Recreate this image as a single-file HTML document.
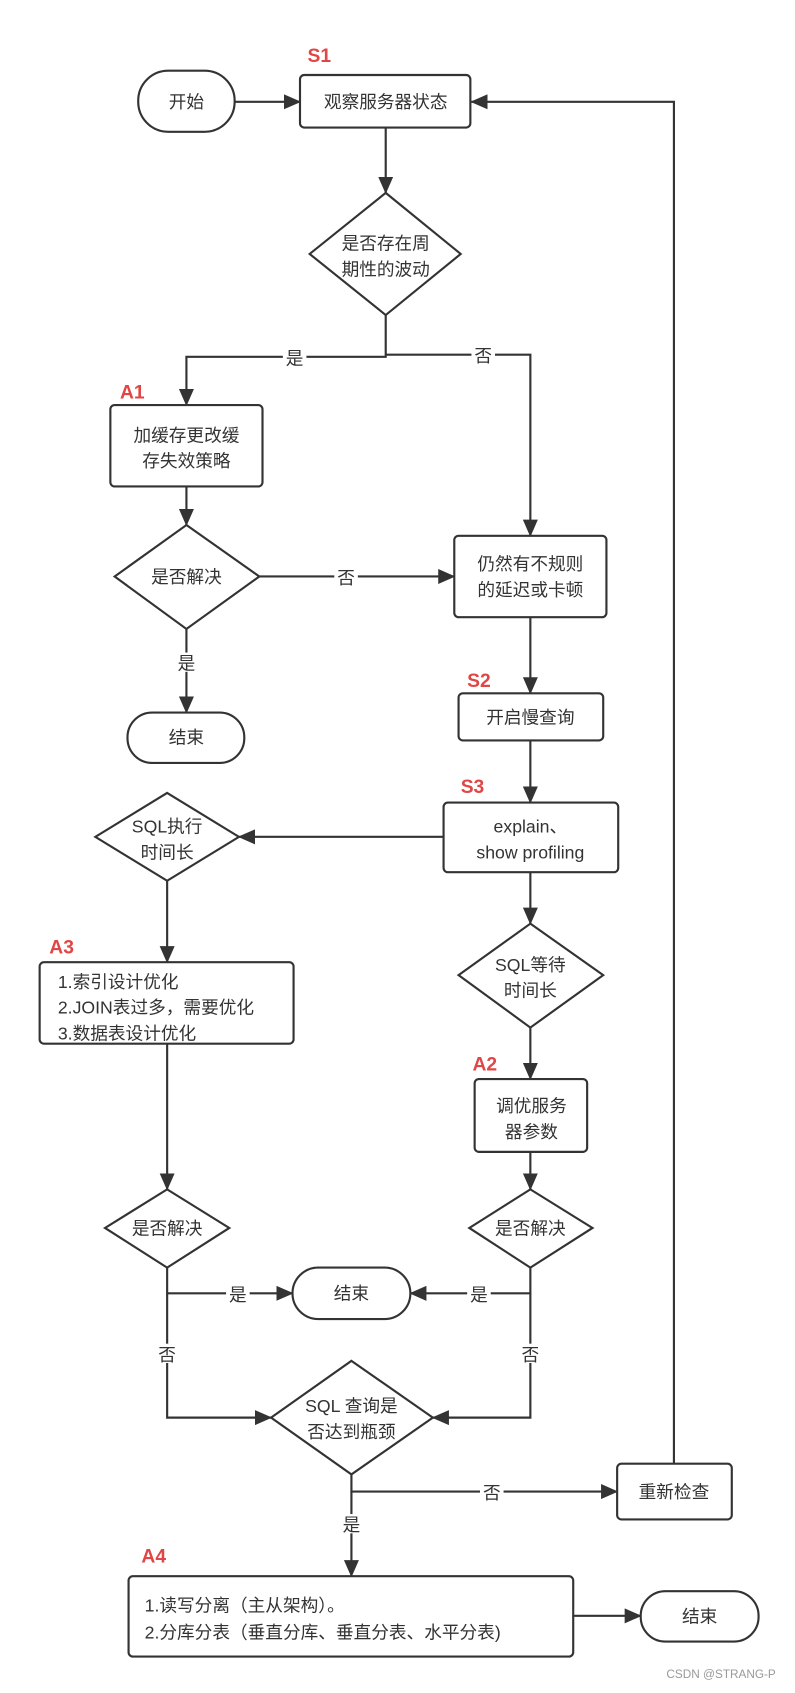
<!DOCTYPE html>
<html><head><meta charset="utf-8"><style>
html,body{margin:0;padding:0;background:#fff}
svg{display:block}
text{font-family:"Liberation Sans","Noto Sans CJK SC",sans-serif;fill:#333;font-size:16.5px}
.r{fill:#e04646;font-weight:bold;font-size:18px}
.s{fill:none;stroke:#333;stroke-width:2}
.b{fill:#fff;stroke:#333;stroke-width:2}
</style></head><body>
<svg width="795" height="1693" viewBox="0 0 742 1580" preserveAspectRatio="none">
<defs>
<marker id="a2" markerWidth="16" markerHeight="14" refX="15" refY="7" orient="auto" markerUnits="userSpaceOnUse"><path d="M0,0 L16,7 L0,14 z" fill="#333"/></marker></defs>
<g class="s" marker-end="url(#a2)">
<path d="M219,95 H280"/>
<path d="M629,1366 V95 H440"/>
<path d="M360,119 V180"/>
<path d="M360,294 V333 H174 V378"/>
<path d="M360,331 H495 V500"/>
<path d="M174,454 V490"/>
<path d="M242,538 H424"/>
<path d="M174,587 V665"/>
<path d="M495,576 V647"/>
<path d="M495,691 V749"/>
<path d="M414,781 H223"/>
<path d="M156,822 V898"/>
<path d="M495,814 V862"/>
<path d="M495,959 V1007"/>
<path d="M495,1075 V1110"/>
<path d="M156,974 V1110"/>
<path d="M156,1183 V1207 H273"/>
<path d="M495,1183 V1207 H383"/>
<path d="M156,1207 V1323 H253"/>
<path d="M495,1207 V1323 H404"/>
<path d="M328,1376 V1392 H576"/>
<path d="M328,1392 V1471"/>
<path d="M535,1508 H598"/>
</g>
<rect class="b" x="129" y="66" width="90" height="57" rx="28"/>
<rect class="b" x="280" y="70" width="159" height="49" rx="4"/>
<polygon class="b" points="360,180 430,237 360,294 289,237"/>
<rect class="b" x="103" y="378" width="142" height="76" rx="4"/>
<polygon class="b" points="174,490 242,538 174,587 107,538"/>
<rect class="b" x="424" y="500" width="142" height="76" rx="4"/>
<rect class="b" x="119" y="665" width="109" height="47" rx="23"/>
<rect class="b" x="428" y="647" width="135" height="44" rx="4"/>
<rect class="b" x="414" y="749" width="163" height="65" rx="4"/>
<polygon class="b" points="156,740 223,781 156,822 89,781"/>
<rect class="b" x="37" y="898" width="237" height="76" rx="4"/>
<polygon class="b" points="495,862 563,910 495,959 428,910"/>
<rect class="b" x="443" y="1007" width="105" height="68" rx="4"/>
<polygon class="b" points="495,1110 553,1146 495,1183 438,1146"/>
<polygon class="b" points="156,1110 214,1146 156,1183 98,1146"/>
<rect class="b" x="273" y="1183" width="110" height="48" rx="24"/>
<polygon class="b" points="328,1270 404,1323 328,1376 253,1323"/>
<rect class="b" x="576" y="1366" width="107" height="52" rx="4"/>
<rect class="b" x="120" y="1471" width="415" height="75" rx="4"/>
<rect class="b" x="598" y="1485" width="110" height="47" rx="23"/>
<g text-anchor="middle">
<rect x="264" y="324" width="22" height="18" fill="#fff"/><text x="275" y="340">是</text>
<rect x="440" y="322" width="22" height="18" fill="#fff"/><text x="451" y="338">否</text>
<rect x="312" y="529" width="22" height="18" fill="#fff"/><text x="323" y="545">否</text>
<rect x="163" y="609" width="22" height="18" fill="#fff"/><text x="174" y="625">是</text>
<rect x="211" y="1198" width="22" height="18" fill="#fff"/><text x="222" y="1214">是</text>
<rect x="436" y="1198" width="22" height="18" fill="#fff"/><text x="447" y="1214">是</text>
<rect x="145" y="1254" width="22" height="18" fill="#fff"/><text x="156" y="1270">否</text>
<rect x="484" y="1254" width="22" height="18" fill="#fff"/><text x="495" y="1270">否</text>
<rect x="448" y="1383" width="22" height="18" fill="#fff"/><text x="459" y="1399">否</text>
<rect x="317" y="1413" width="22" height="18" fill="#fff"/><text x="328" y="1429">是</text>
<text x="174" y="101">开始</text>
<text x="360" y="101">观察服务器状态</text>
<text x="360" y="233">是否存在周</text><text x="360" y="257">期性的波动</text>
<text x="174" y="412">加缓存更改缓</text><text x="174" y="436">存失效策略</text>
<text x="174" y="544">是否解决</text>
<text x="495" y="532">仍然有不规则</text><text x="495" y="556">的延迟或卡顿</text>
<text x="174" y="694">结束</text>
<text x="495" y="675">开启慢查询</text>
<text x="495" y="777">explain、</text><text x="495" y="801">show profiling</text>
<text x="156" y="777">SQL执行</text><text x="156" y="801">时间长</text>
<text x="495" y="906">SQL等待</text><text x="495" y="930">时间长</text>
<text x="496" y="1038">调优服务</text><text x="496" y="1062">器参数</text>
<text x="495" y="1152">是否解决</text>
<text x="156" y="1152">是否解决</text>
<text x="328" y="1213">结束</text>
<text x="328" y="1318">SQL 查询是</text><text x="328" y="1342">否达到瓶颈</text>
<text x="629" y="1398">重新检查</text>
<text x="653" y="1514">结束</text>
</g>
<text x="54" y="922">1.索引设计优化</text>
<text x="54" y="946">2.JOIN表过多，需要优化</text>
<text x="54" y="970">3.数据表设计优化</text>
<text x="135" y="1504">1.读写分离（主从架构）。</text>
<text x="135" y="1529">2.分库分表（垂直分库、垂直分表、水平分表)</text>
<text class="r" x="287" y="58">S1</text>
<text class="r" x="112" y="372">A1</text>
<text class="r" x="436" y="641">S2</text>
<text class="r" x="430" y="740">S3</text>
<text class="r" x="46" y="890">A3</text>
<text class="r" x="441" y="999">A2</text>
<text class="r" x="132" y="1458">A4</text>
<text x="622" y="1566" style="font-size:11px;fill:#999">CSDN @STRANG-P</text>
</svg>
</body></html>
